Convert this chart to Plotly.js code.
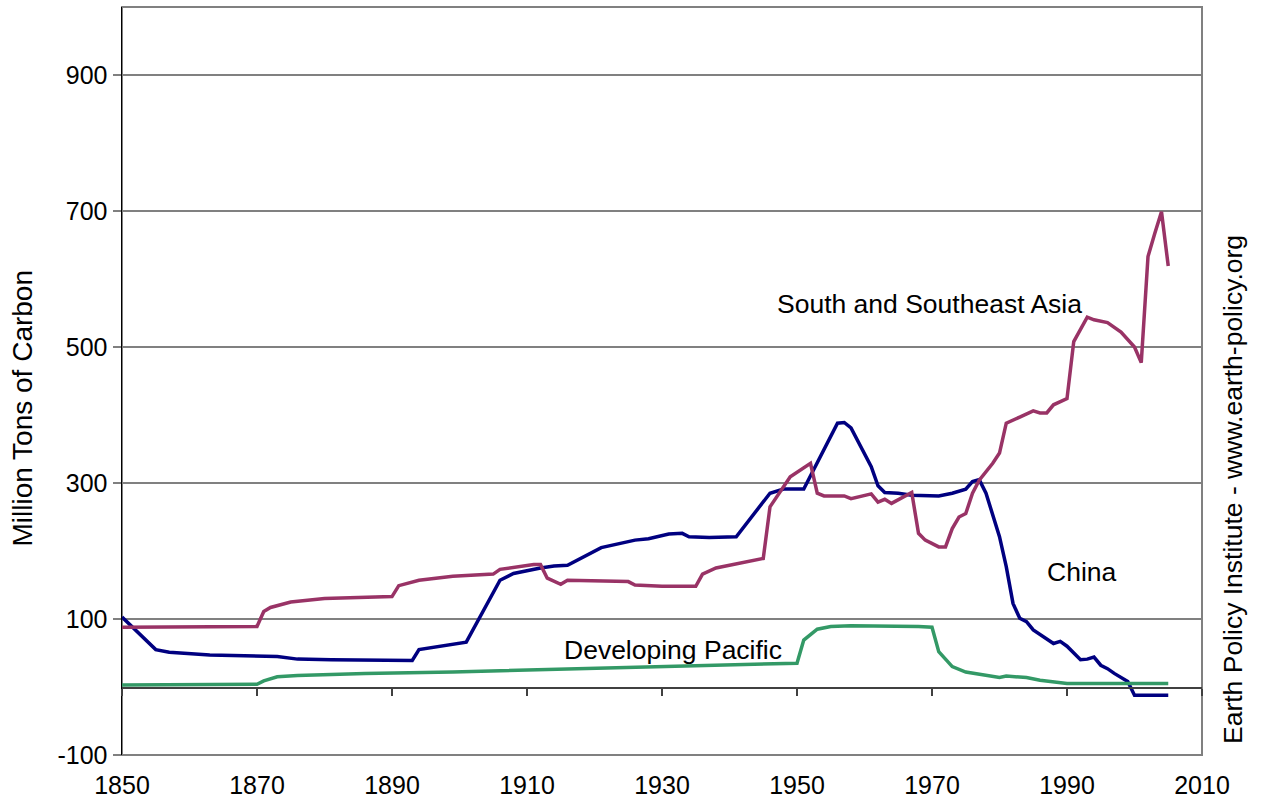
<!DOCTYPE html>
<html>
<head>
<meta charset="utf-8">
<script src="https://cdn.plot.ly/plotly-3.0.1.min.js"></script>
<style>html,body{margin:0;padding:0;background:#fff;}#chart{width:1268px;height:804px;}</style>
</head>
<body>
<div id="chart"></div>
<script>
// China
const chinaYears = [1850,1855,1857,1863,1873,1876,1881,1893,1894,1899,1901,1906,1908,1912,1914,1916,1921,1926,1928,1931,1933,1934,1937,1941,1946,1948,1951,1956,1957,1958,1961,1962,1963,1965,1967,1971,1973,1975,1976,1977,1978,1980,1981,1982,1983,1984,1985,1988,1989,1990,1992,1993,1994,1995,1996,1997,1999,2000,2005];
const chinaVals  = [103,55,51,47,45,41,40,39,55,63,66,157,167,175,178,179,205,216,218,225,226,221,220,221,285,291,291,388,389,381,324,296,286,285,282,281,285,291,302,305,285,221,177,123,101,96,84,64,67,60,40,41,44,32,27,20,8,-12,-12];

// South and Southeast Asia
const ssaYears = [1850,1870,1871,1872,1875,1880,1890,1891,1894,1899,1905,1906,1911,1912,1913,1915,1916,1922,1925,1926,1930,1935,1936,1938,1945,1946,1949,1952,1953,1954,1957,1958,1961,1962,1963,1964,1967,1968,1969,1971,1972,1973,1974,1975,1976,1977,1979,1980,1981,1983,1985,1986,1987,1988,1990,1991,1992,1993,1994,1996,1998,2000,2001,2002,2003,2004,2005];
const ssaVals  = [88,89,111,117,125,130,133,149,157,163,166,173,180,180,160,151,157,155,155,150,148,148,166,175,189,265,309,329,285,281,281,277,284,272,276,270,286,226,216,206,206,233,250,255,285,304,329,344,388,397,406,403,403,415,424,508,527,544,540,536,522,500,477,633,667,699,619];

// Developing Pacific
const dpYears = [1850,1870,1871,1873,1876,1886,1899,1950,1951,1953,1955,1958,1968,1970,1971,1973,1975,1978,1980,1981,1984,1986,1990,2005];
const dpVals  = [3,4,9,15,17,20,22,35,69,85,89,90,89,88,52,30,22,17,14,16,14,10,5,5];

const seriesNames = ["China","South and Southeast Asia","Developing Pacific"];
const yTicks = [-100,100,300,500,700,900];
const xTicks = [1850,1870,1890,1910,1930,1950,1970,1990,2010];

const FONT = "Liberation Sans, Arial, Helvetica, sans-serif";

const traces = [
  {x: chinaYears, y: chinaVals, name: seriesNames[0], type: "scatter", mode: "lines",
   line: {color: "#000080", width: 3.5}},
  {x: ssaYears, y: ssaVals, name: seriesNames[1], type: "scatter", mode: "lines",
   line: {color: "#993366", width: 3.5}},
  {x: dpYears, y: dpVals, name: seriesNames[2], type: "scatter", mode: "lines",
   line: {color: "#339966", width: 3.5}},
  {x: [], y: [], xaxis: "x2", yaxis: "y", type: "scatter", mode: "lines", showlegend: false, hoverinfo: "skip"}
];

const layout = {
  width: 1268, height: 804,
  margin: {l: 122, r: 66, t: 7, b: 49, pad: 0},
  paper_bgcolor: "#ffffff", plot_bgcolor: "#ffffff",
  showlegend: false,
  font: {family: FONT, size: 25, color: "#000"},
  xaxis: {
    range: [1850, 2010], tickvals: xTicks, ticktext: xTicks.map(String),
    showgrid: false, zeroline: false, showline: false, ticks: "",
    ticklabelstandoff: 13,
    tickfont: {family: FONT, size: 25, color: "#000"}
  },
  xaxis2: {
    overlaying: "x", anchor: "free", position: 100/1100,
    range: [1850, 2010], tickvals: xTicks, showticklabels: false,
    showgrid: false, zeroline: false, showline: true, linecolor: "#404040", linewidth: 1.5,
    ticks: "outside", ticklen: 7, tickcolor: "#404040", tickwidth: 1.5
  },
  yaxis: {
    range: [-100, 1000], tickvals: yTicks, ticktext: yTicks.map(String),
    showgrid: true, gridcolor: "#808080", gridwidth: 1.5, zeroline: false,
    showline: true, linecolor: "#000", linewidth: 1.5,
    ticks: "outside", ticklen: 8, tickcolor: "#808080", tickwidth: 1.5,
    tickfont: {family: FONT, size: 25, color: "#000"}
  },
  shapes: [
    {type: "rect", xref: "paper", yref: "paper", x0: 0, x1: 1, y0: 0, y1: 1,
     line: {color: "#808080", width: 2}, layer: "below"}
  ],
  annotations: [
    {text: "Million Tons of Carbon", x: (4-122)/1080, y: (755-408)/748,
     xref: "paper", yref: "paper", textangle: -90, showarrow: false,
     font: {family: FONT, size: 28, color: "#000"}},
    {text: "South and Southeast Asia", x: 1969.7, y: 563, xref: "x", yref: "y",
     showarrow: false, font: {family: FONT, size: 26.5, color: "#000"}},
    {text: "China", x: 1992.2, y: 169, xref: "x", yref: "y",
     showarrow: false, font: {family: FONT, size: 26.5, color: "#000"}},
    {text: "Developing Pacific", x: 1931.7, y: 54, xref: "x", yref: "y",
     showarrow: false, font: {family: FONT, size: 26.5, color: "#000"}},
    {text: "Earth Policy Institute - www.earth-policy.org", x: (1250-122)/1080, y: (755-490)/748,
     xref: "paper", yref: "paper", textangle: -90, showarrow: false,
     font: {family: FONT, size: 26.5, color: "#000"}}
  ]
};

Plotly.newPlot("chart", traces, layout, {displayModeBar: false, staticPlot: true});
</script>
</body>
</html>
